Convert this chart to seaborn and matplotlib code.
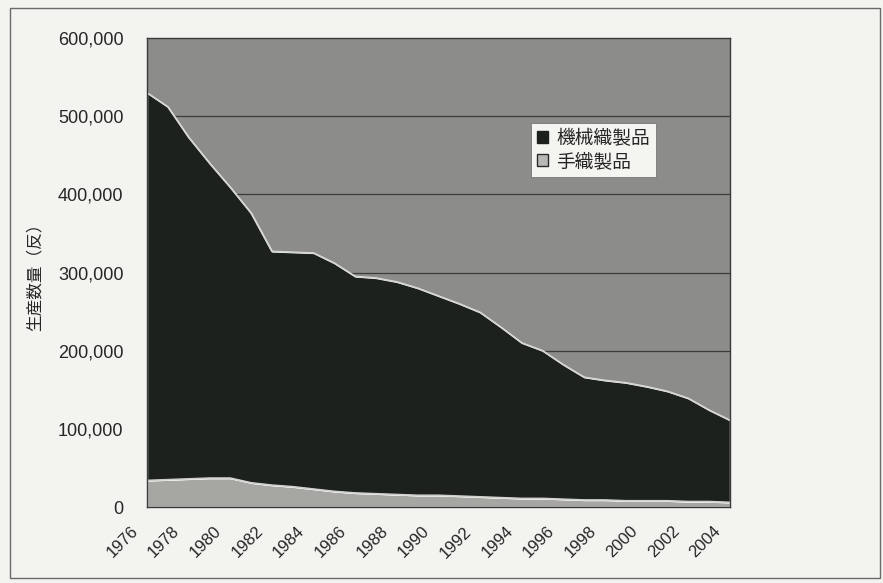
import matplotlib
matplotlib.use("Agg")
import matplotlib.pyplot as plt
import matplotlib.transforms as mtransforms
from matplotlib.patches import Rectangle, Patch
import numpy as np
import pandas as pd
import seaborn as sns

# production volume (tan)
years = list(range(1976, 2005))
total = [530000, 512000, 473000, 440000, 409000, 376000, 327000, 326000, 325000, 312000,
         295000, 293000, 288000, 280000, 270000, 260000, 249000, 230000, 210000, 200000,
         182000, 166000, 162000, 159000, 154000, 148000, 139000, 124000, 111000]
hand = [34000, 35000, 36000, 37000, 37000, 31000, 28000, 26000, 23000, 20000,
        18000, 17000, 16000, 15000, 15000, 14000, 13000, 12000, 11000, 11000,
        10000, 9000, 9000, 8000, 8000, 8000, 7000, 7000, 6000]
machine = [t - h for t, h in zip(total, hand)]
labels = ['機械織製品', '手織製品']
y_ticks = [0, 100000, 200000, 300000, 400000, 500000, 600000]

df = pd.DataFrame({'year': years, 'hand': hand, 'machine': machine})
df['top'] = df['hand'] + df['machine']

sns.set_theme(style='white')
plt.rcParams['font.family'] = ['Liberation Sans', 'Noto Sans CJK JP', 'DejaVu Sans']

fig = plt.figure(figsize=(8.83, 5.83), dpi=100, facecolor='#f3f3ef')
ax = fig.add_axes([147 / 883, 1 - 507 / 583, 583 / 883, 469 / 583])
ax.set_facecolor('#8c8c8a')

# gridlines sit behind the areas
for v in y_ticks[1:-1]:
    ax.axhline(v, color='#3c3c3c', lw=0.9, zorder=0)

ax.stackplot(df['year'], df['hand'], df['machine'],
             colors=['#a6a6a3', '#1d211d'], zorder=1)
sns.lineplot(x=df['year'], y=df['top'], color='#d4d4d0', lw=1.2, ax=ax, zorder=2)
sns.lineplot(x=df['year'], y=df['hand'], color='#cfcfcb', lw=1.2, ax=ax, zorder=2)

ax.set_xlim(1976, 2004)
ax.set_ylim(0, 600000)
ax.set_yticks(y_ticks)
ax.set_yticklabels([f'{v:,}' for v in y_ticks], fontsize=13, color='#262626')
ax.set_xticks(years[::2])
ax.set_xticklabels([str(y) for y in years[::2]], fontsize=12, color='#262626',
                   rotation=45, ha='right', va='top', rotation_mode='anchor')
ax.tick_params(axis='y', length=0, pad=17)
ax.tick_params(axis='x', length=0, pad=12)
offset = mtransforms.ScaledTranslation(-12 / 72, 0, fig.dpi_scale_trans)
for lab in ax.get_xticklabels():
    lab.set_transform(lab.get_transform() + offset)
ax.set_xlabel('')
ax.set_ylabel('生産数量（反）', fontsize=12, color='#262626')
ax.yaxis.set_label_coords(-0.18, 0.5)
for s in ax.spines.values():
    s.set_color('#3a3a3a')
    s.set_linewidth(1.0)
    s.set_zorder(3)

handles = [Patch(facecolor='#1d211d', edgecolor='#1d211d'),
           Patch(facecolor='#b8b8b4', edgecolor='#2a2a2a')]
leg = ax.legend(handles, labels, loc='upper left', bbox_to_anchor=(0.658, 0.818),
                fontsize=13.5, frameon=True, fancybox=False, framealpha=1,
                handlelength=0.6, handleheight=0.6, handletextpad=0.4,
                borderpad=0.35, labelspacing=0.25, borderaxespad=0)
leg.get_frame().set_facecolor('#f4f4f0')
leg.get_frame().set_edgecolor('#777777')
leg.get_frame().set_linewidth(0.6)

# scanned frame around the chart
fig.patches.append(Rectangle((10 / 883, 5 / 583), 870 / 883, 570 / 583,
                             transform=fig.transFigure, fill=False,
                             edgecolor='#6a6a6a', lw=1.0))

fig.savefig('out.png', dpi=100, facecolor=fig.get_facecolor())
